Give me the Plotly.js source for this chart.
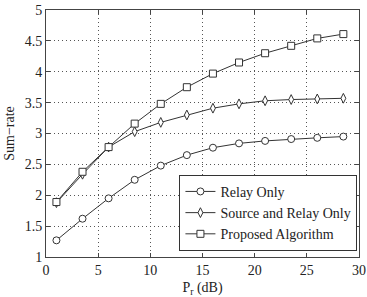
<!DOCTYPE html>
<html><head><meta charset="utf-8">
<script src="https://cdn.plot.ly/plotly-3.0.1.min.js"></script>
<style>html,body{margin:0;padding:0;background:#fff;}#chart{width:367px;height:297px;}</style>
</head><body><div id="chart"></div>
<script>
const xValues = [1, 3.5, 6, 8.5, 11, 13.5, 16, 18.5, 21, 23.5, 26, 28.5];
const relayOnly = [1.27, 1.62, 1.95, 2.25, 2.48, 2.65, 2.77, 2.84, 2.88, 2.91, 2.93, 2.95];
const sourceRelay = [1.88, 2.34, 2.78, 3.03, 3.18, 3.30, 3.41, 3.48, 3.53, 3.55, 3.56, 3.57];
const proposed = [1.89, 2.38, 2.78, 3.16, 3.48, 3.75, 3.97, 4.15, 4.30, 4.42, 4.54, 4.61];
const seriesNames = ['Relay Only', 'Source and Relay Only', 'Proposed Algorithm'];
const xTicks = [0, 5, 10, 15, 20, 25, 30];
const yTicks = [1, 1.5, 2, 2.5, 3, 3.5, 4, 4.5, 5];

const font = {family: 'Liberation Serif, Times New Roman, serif', color: '#222', size: 14};
function tr(y, name, sym) {
  return {x: xValues, y: y, name: name, type: 'scatter', mode: 'lines+markers',
    line: {color: '#333', width: 1},
    marker: {symbol: sym, size: 7, color: '#fff', line: {color: '#333', width: 1}}};
}
const data = [
  tr(relayOnly, seriesNames[0], 'circle'),
  tr(sourceRelay, seriesNames[1], 'diamond-tall'),
  tr(proposed, seriesNames[2], 'square')
];
const axisCommon = {showline: true, linecolor: '#444', linewidth: 1, mirror: 'ticks',
  ticks: 'inside', ticklen: 4, tickcolor: '#444', showgrid: true, gridcolor: '#555',
  griddash: '1px,3px', gridwidth: 1, zeroline: false, tickfont: font};
const layout = {
  width: 367, height: 297,
  margin: {l: 46, r: 8, t: 10, b: 40},
  paper_bgcolor: '#fff', plot_bgcolor: '#fff',
  font: font,
  showlegend: true,
  legend: {x: 0.995, y: 0.025, xanchor: 'right', yanchor: 'bottom', bgcolor: '#fff',
    bordercolor: '#333', borderwidth: 1, font: font, tracegroupgap: 0,
    entrywidth: 150, entrywidthmode: 'pixels'},
  xaxis: Object.assign({}, axisCommon, {range: [0, 30], tickvals: xTicks,
    title: {text: 'P<sub>r</sub> (dB)', font: font, standoff: 6}}),
  yaxis: Object.assign({}, axisCommon, {range: [1, 5], tickvals: yTicks,
    title: {text: 'Sum\u2212rate', font: font, standoff: 6}})
};
Plotly.newPlot('chart', data, layout, {displayModeBar: false, staticPlot: true});
</script></body></html>
